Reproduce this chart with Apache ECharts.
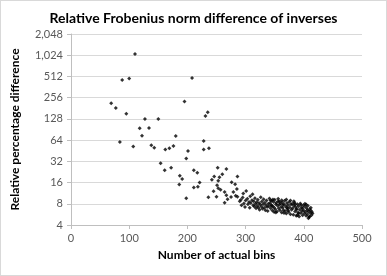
<!DOCTYPE html>
<html><head><meta charset="utf-8">
<script src="https://cdn.jsdelivr.net/npm/echarts@6/dist/echarts.min.js"></script>
<style>
html,body{margin:0;padding:0;background:#fff;}
#c{width:387px;height:276px;box-sizing:border-box;border:1px solid #d9d9d9;}
</style></head>
<body><div id="c"></div>
<script>
const title = "Relative Frobenius norm difference of inverses";
const xName = "Number of actual bins";
const yName = "Relative percentage difference";
const xTicks = [0, 100, 200, 300, 400, 500];
const yTicks = [4, 8, 16, 32, 64, 128, 256, 512, 1024, 2048];

const sparsePoints = [
 [69,213],[77,183],[84,60],[88,455],[95,152],[100,480],[107,52],[110,1068],[118,94],[122,74],
 [127,128],[134,95],[138,54],[143,50],[150,128],[154,30],[161,24],[162,47],[169,49],[172,26],
 [176,53],[180,73],[187,20],[191,18],[186,15],[195,225],[198,35],[198,9.6],[201,45],[208,485],
 [211,24],[217,22],[221,16],[211,13.6],[218,14],[228,62],[228,47],[231,141],[235,159],[237,49],
 [236,9.9],[242,17.6],[246,19.5],[252,26],[255,19],[260,21],[267,25],[251,14.7],[245,12],[253,17],
 [253,13.3],[250,10.1],[257,12.6],[264,11.8],[267,10.6],[264,8.3],[269,9.3],[276,16.2],[282,15.2],[286,19.5],
 [285,13],[279,11.8],[283,10.4],[275,10],[286,10.1],[292,9.1]
];
const clusterPoints = [
 [290,8.7],[293,7.6],[295,9.8],[297,8.1],[299,7.2],[300,8.9],[296,11.2],[301,12.1],
 [303,9.4],[304,7.9],[306,8.5],[307,7.0],[308,10.2],[309,8.2],[311,9.0],[312,10.9],[313,7.6],[314,8.7],[315,7.3],[316,9.6],[317,8.0],[318,6.9],[319,8.4],[320,7.5],
 [321,9.1],[322,7.1],[323,8.2],[324,6.6],[325,7.8],[326,9.9],[327,7.3],[328,8.6],[329,6.8],[330,7.9],[331,9.3],[332,7.0],[333,8.3],[334,6.5],[335,7.6],[336,8.9],[337,7.2],[338,6.3],[339,8.0],[340,7.4],
 [341,9.5],[342,8.2],[343,6.9],[344,7.7],[345,8.8],[346,6.4],[347,7.3],[348,8.5],[349,7.0],[350,9.1],[351,6.7],[352,7.9],[353,8.3],[354,6.2],[355,7.5],[356,8.7],[357,6.9],[358,7.8],[359,6.5],[360,8.1],
 [343,8.9],[347,9.2],[352,6.0],[356,9.4],[349,6.1],[345,7.5],[358,8.6],
 [361,7.2],[362,6.0],[363,8.4],[364,7.0],[365,6.5],[366,7.9],[367,8.8],[368,6.3],[369,7.4],[370,5.8],[371,8.2],[372,6.8],[373,7.6],[374,6.1],[375,8.5],[376,7.1],[377,5.7],[378,7.8],[379,6.6],[380,8.0],
 [362,9.0],[366,5.9],[370,9.2],[373,6.4],[377,8.9],[364,7.7],[371,7.0],
 [381,6.9],[382,5.6],[383,7.5],[384,8.3],[385,6.2],[386,7.2],[387,5.4],[388,6.8],[389,7.9],[390,6.0],[391,7.4],[392,5.3],[393,6.6],[394,8.1],[395,5.9],[396,7.0],[397,6.3],[398,5.5],[399,7.6],[400,6.4],
 [383,8.7],[387,6.6],[391,5.8],[395,7.7],[398,6.9],[385,7.9],[389,5.5],
 [401,5.8],[402,7.3],[403,6.1],[404,5.4],[405,6.9],[406,5.7],[407,7.5],[408,6.2],[409,5.2],[410,6.7],[411,5.9],[412,6.4],[413,5.5],[414,6.1],[415,5.8],
 [402,8.0],[406,6.5],[410,5.3],[404,7.8],[408,5.0],[412,7.0]
];

const chart = echarts.init(document.getElementById('c'), null, {renderer:'canvas'});
const FONT = 'Lato, "Open Sans", sans-serif';
chart.setOption({
  animation:false,
  title:{text:title,left:'center',top:5,textStyle:{fontFamily:FONT,fontSize:14,fontWeight:'bold',color:'#000'}},
  grid:{left:66,right:24,top:33,bottom:50,containLabel:false},
  xAxis:{type:'value',min:xTicks[0],max:xTicks[xTicks.length-1],interval:100,
    name:xName,nameLocation:'middle',nameGap:24,
    nameTextStyle:{fontFamily:FONT,fontSize:12,fontWeight:'bold',color:'#000'},
    axisLine:{show:true,lineStyle:{color:'#bfbfbf'}},
    axisTick:{show:true,length:4,inside:false,lineStyle:{color:'#bfbfbf'}},
    axisLabel:{fontFamily:FONT,fontSize:11,color:'#595959',margin:8},
    splitLine:{show:false}},
  yAxis:{type:'log',logBase:2,min:yTicks[0],max:yTicks[yTicks.length-1],
    name:yName,nameLocation:'middle',nameGap:50,
    nameTextStyle:{fontFamily:FONT,fontSize:12,fontWeight:'bold',color:'#000'},
    axisLine:{show:true,lineStyle:{color:'#bfbfbf'}},
    axisTick:{show:true,length:4,lineStyle:{color:'#bfbfbf'}},
    axisLabel:{fontFamily:FONT,fontSize:11,color:'#595959',margin:8,
      formatter:v=>Math.round(v).toLocaleString('en-US')},
    splitLine:{show:true,lineStyle:{color:'#d9d9d9'}}},
  series:[{type:'scatter',symbol:'diamond',symbolSize:4,
    itemStyle:{color:'#000'},
    data:sparsePoints.concat(clusterPoints)}]
});
</script></body></html>
